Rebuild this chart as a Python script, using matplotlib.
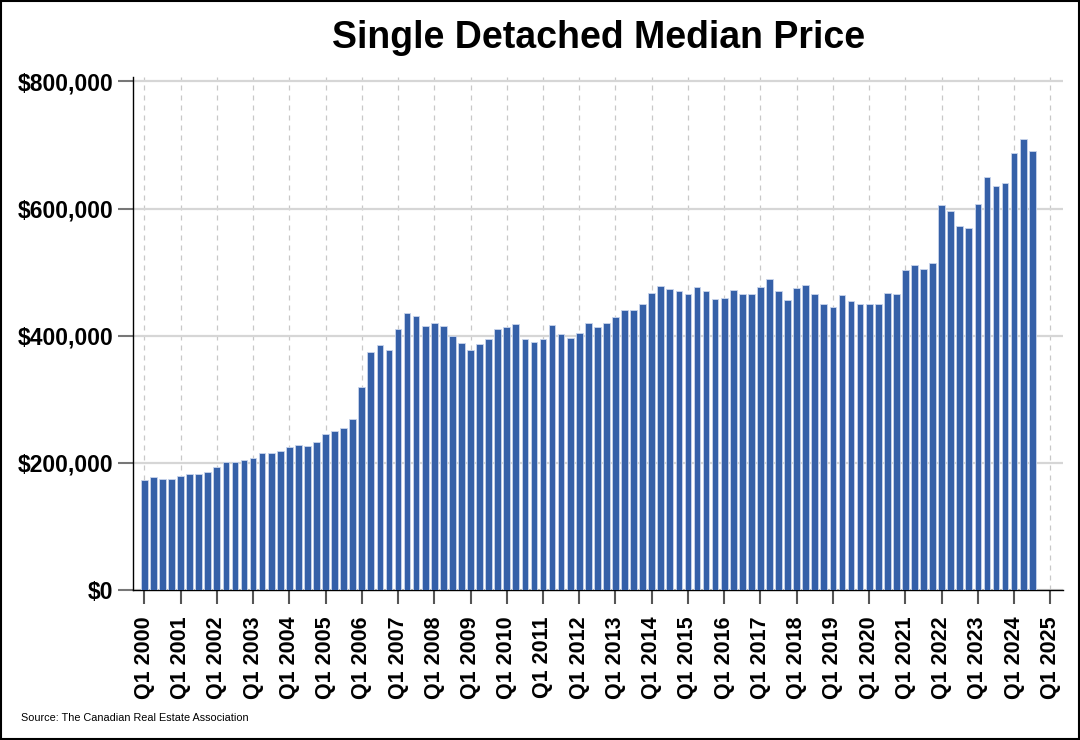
import numpy as np
import matplotlib
matplotlib.use("Agg")
import matplotlib.pyplot as plt
from matplotlib.ticker import FuncFormatter, FixedLocator

plt.rcParams['font.family'] = ['Liberation Sans', 'DejaVu Sans']

# quarterly single detached median price, Q1 2000 .. Q3 2024
prices = [
    173000, 177000, 175000, 175000, 180000, 182000, 183000, 185000,   # 2000-2001
    193000, 202000, 202000, 205000, 208000, 215000, 216000, 218000,   # 2002-2003
    225000, 228000, 227000, 233000, 245000, 250000, 255000, 269000,   # 2004-2005
    320000, 375000, 386000, 377000, 410000, 435000, 431000, 415000,   # 2006-2007
    420000, 415000, 400000, 389000, 378000, 387000, 395000, 410000,   # 2008-2009
    414000, 418000, 395000, 390000, 395000, 417000, 402000, 397000,   # 2010-2011
    405000, 420000, 413000, 420000, 430000, 440000, 440000, 450000,   # 2012-2013
    468000, 478000, 473000, 471000, 466000, 476000, 470000, 458000,   # 2014-2015
    460000, 472000, 466000, 465000, 476000, 490000, 470000, 456000,   # 2016-2017
    475000, 480000, 466000, 450000, 446000, 464000, 455000, 450000,   # 2018-2019
    450000, 450000, 468000, 466000, 504000, 511000, 505000, 515000,   # 2020-2021
    605000, 596000, 572000, 570000, 607000, 649000, 635000, 641000,   # 2022-2023
    688000, 710000, 690000,                                           # 2024
]
years = list(range(2000, 2026))
tick_labels = [f"Q1 {y}" for y in years]
title = "Single Detached Median Price"
source = "Source: The Canadian Real Estate Association"

fig = plt.figure(figsize=(10.8, 7.4), dpi=100)
ax = fig.add_axes([0.1229, 0.2027, 0.8614, 0.6932])

x = np.arange(len(prices))
ax.bar(x, prices, width=0.74, color='#3560a8', edgecolor='#c9d5ec',
       linewidth=0.6, zorder=3)

ax.set_xlim(-1.28, 101.4)
ax.set_ylim(0, 807000)

tick_pos = [(y - 2000) * 4 for y in years]
ax.xaxis.set_major_locator(FixedLocator(tick_pos))
ax.set_xticklabels(tick_labels, rotation=90, fontsize=15.5, fontweight='bold')
ax.set_yticks([0, 200000, 400000, 600000, 800000])
ax.yaxis.set_major_formatter(FuncFormatter(lambda v, p: f"${v:,.0f}"))
for lab in ax.get_yticklabels():
    lab.set_fontsize(16.5)
    lab.set_fontweight('bold')

ax.tick_params(axis='y', direction='out', length=11, width=1.5, color='#777777', pad=3)
ax.tick_params(axis='x', direction='out', length=10, width=1.5, color='#555555', pad=9)

ax.grid(axis='y', color='#d6d6d6', linewidth=1.6, zorder=0)
ax.grid(axis='x', color='#c8c8c8', linewidth=0.9, linestyle=(0, (4, 4)), zorder=0)

for side in ['top', 'right']:
    ax.spines[side].set_visible(False)
ax.spines['left'].set_color('black')
ax.spines['bottom'].set_color('black')
ax.spines['left'].set_linewidth(1)
ax.spines['bottom'].set_linewidth(1)

fig.text(0.554, 0.948, title, ha='center', va='center', fontsize=27, fontweight='bold')
fig.text(0.0195, 0.030, source, ha='left', va='center', fontsize=7.8)

# frame around the whole picture
fig.patches.append(plt.Rectangle((0.0005, 0.0007), 0.999, 0.9986, transform=fig.transFigure,
                                 fill=False, edgecolor='black', linewidth=1.5))

fig.savefig("out.png", dpi=100)
